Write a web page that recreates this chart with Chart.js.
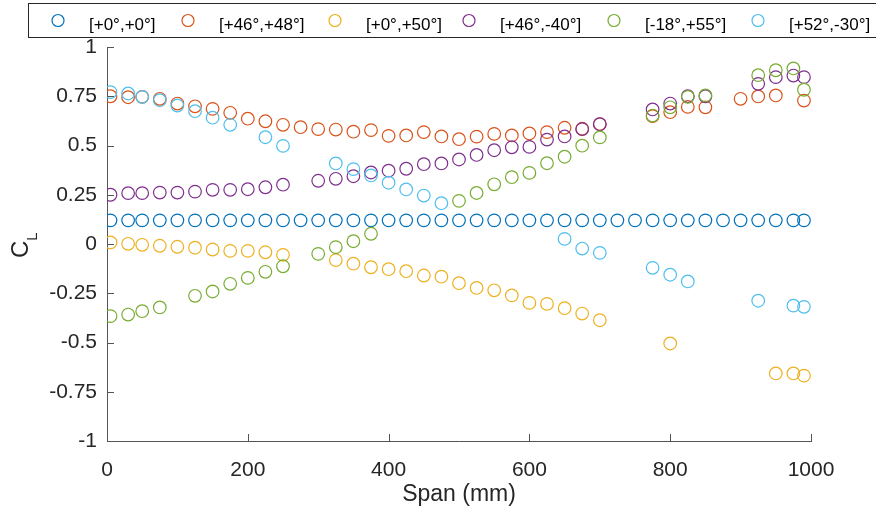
<!DOCTYPE html>
<html>
<head>
<meta charset="utf-8">
<title>CL vs span</title>
<script src="https://cdn.jsdelivr.net/npm/chart.js@4.4.1/dist/chart.umd.min.js"></script>
<style>
  body { margin: 0; background: #fff; }
  canvas { display: block; }
</style>
</head>
<body>
<canvas id="clChart" width="876" height="513"></canvas>
<script>
// span stations (mm) and lift coefficient per configuration (null = no sample)
const span = [5, 30, 50, 75, 100, 125, 150, 175, 200, 225, 250, 275, 300, 325, 350, 375, 400, 425, 450, 475,
  500, 525, 550, 575, 600, 625, 650, 675, 700, 725, 750, 775, 800, 825, 850, 875, 900, 925, 950, 975, 990];

const labels = ["[+0°,+0°]", "[+46°,+48°]", "[+0°,+50°]", "[+46°,-40°]", "[-18°,+55°]", "[+52°,-30°]"];
const colors = ["#0072BD", "#D95319", "#EDB120", "#7E2F8E", "#77AC30", "#4DBEEE"];

const cl0 = span.map(() => 0.12);
const cl1 = [0.75, 0.745, 0.747, 0.737, 0.713, 0.699, 0.686, 0.666, 0.636, 0.623, 0.605, 0.593, 0.583, 0.581, 0.57, 0.578, 0.549, 0.551, 0.568, 0.546,
  0.532, 0.545, 0.559, 0.551, 0.561, 0.568, 0.59, 0.585, 0.609, null, null, 0.649, 0.669, 0.696, 0.694, null, 0.737, 0.749, 0.754, null, 0.728];
const cl2 = [0.008, 0.001, -0.004, -0.009, -0.014, -0.019, -0.028, -0.035, -0.035, -0.042, -0.055, null, null, -0.082, -0.1, -0.118, -0.128, -0.138, -0.16, -0.166,
  -0.199, -0.223, -0.235, -0.261, -0.299, -0.304, -0.326, -0.353, -0.387, null, null, null, -0.505, null, null, null, null, null, -0.657, -0.657, -0.668];
const cl3 = [0.25, 0.258, 0.258, 0.261, 0.261, 0.266, 0.275, 0.275, 0.278, 0.288, 0.301, null, 0.321, 0.331, 0.344, 0.363, 0.372, 0.382, 0.405, 0.409,
  0.429, 0.452, 0.476, 0.491, 0.493, 0.53, 0.546, 0.583, 0.608, null, null, 0.683, 0.713, 0.75, 0.75, null, null, 0.813, 0.847, 0.855, 0.847];
const cl4 = [-0.366, -0.358, -0.341, -0.322, null, -0.263, -0.241, -0.202, -0.172, -0.141, -0.113, null, -0.05, -0.016, 0.014, 0.052, null, null, null, null,
  0.219, 0.259, 0.303, 0.339, 0.361, 0.41, 0.443, 0.499, 0.541, null, null, 0.652, 0.694, 0.747, 0.754, null, null, 0.857, 0.882, 0.891, 0.783];
const cl5 = [0.771, 0.764, 0.747, 0.73, 0.703, 0.674, 0.641, 0.605, null, 0.542, 0.498, null, null, 0.409, 0.38, 0.348, 0.311, 0.277, 0.246, 0.207,
  null, null, null, null, null, null, 0.026, -0.023, -0.045, null, null, -0.121, -0.156, -0.19, null, null, null, -0.288, null, -0.313, -0.319];

const series = [cl0, cl1, cl2, cl3, cl4, cl5];

const xTicks = [0, 200, 400, 600, 800, 1000];
const xTickLabels = ["0", "200", "400", "600", "800", "1000"];
const yTicks = [-1, -0.75, -0.5, -0.25, 0, 0.25, 0.5, 0.75, 1];
const yTickLabels = ["-1", "-0.75", "-0.5", "-0.25", "0", "0.25", "0.5", "0.75", "1"];

const FONT = '"Liberation Sans", Arial, Helvetica, sans-serif';
const AXIS_COLOR = "#555555";
const TEXT_COLOR = "#262626";
const LEGEND_X = [58, 188, 335, 469, 614, 758]; // marker centres in the legend box

// inward tick marks, C_L label and the boxed legend, matlab style
const matlabExtras = {
  id: "matlabExtras",
  afterDraw(chart) {
    const ctx = chart.ctx;
    const { left, bottom } = chart.chartArea;
    const xs = chart.scales.x;
    const ys = chart.scales.y;

    ctx.save();
    ctx.strokeStyle = AXIS_COLOR;
    ctx.lineWidth = 1;
    ctx.beginPath();
    xs.ticks.forEach((t) => {
      const px = Math.round(xs.getPixelForValue(t.value)) + 0.5;
      ctx.moveTo(px, bottom);
      ctx.lineTo(px, bottom - 7);
    });
    ys.ticks.forEach((t) => {
      const py = Math.round(ys.getPixelForValue(t.value)) + 0.5;
      ctx.moveTo(left, py);
      ctx.lineTo(left + 7, py);
    });
    ctx.stroke();

    // y label: C with subscript L
    ctx.fillStyle = TEXT_COLOR;
    ctx.translate(28, 258);
    ctx.rotate(-Math.PI / 2);
    ctx.textBaseline = "alphabetic";
    ctx.font = "24px " + FONT;
    ctx.fillText("C", 0, 0);
    const cw = ctx.measureText("C").width;
    ctx.font = "15px " + FONT;
    ctx.fillText("L", cw, 9);
    ctx.setTransform(1, 0, 0, 1, 0, 0);

    // legend
    ctx.strokeStyle = "#262626";
    ctx.lineWidth = 1;
    ctx.strokeRect(28.5, 3.5, 900, 34);
    ctx.font = "17px " + FONT;
    ctx.textBaseline = "alphabetic";
    chart.data.datasets.forEach((ds, i) => {
      const cx = LEGEND_X[i];
      ctx.beginPath();
      ctx.arc(cx, 20.5, 6, 0, 2 * Math.PI);
      ctx.strokeStyle = ds.borderColor;
      ctx.lineWidth = 1.2;
      ctx.stroke();
      ctx.fillStyle = "#000";
      ctx.fillText(ds.label, cx + 31, 30);
    });
    ctx.restore();
  },
};

const createChart = () => {
  const ctx = document.getElementById("clChart").getContext("2d");

  const datasets = series.map((vals, i) => ({
    label: labels[i],
    data: span.map((s, j) => ({ x: s, y: vals[j] })).filter((p) => p.y !== null),
    borderColor: colors[i],
    backgroundColor: "rgba(0,0,0,0)",
    borderWidth: 1.2,
    pointRadius: 6.3,
    pointHoverRadius: 6.3,
    order: series.length - i,
  }));

  new Chart(ctx, {
    type: "scatter",
    data: { datasets },
    options: {
      animation: false,
      responsive: false,
      devicePixelRatio: 1,
      layout: { padding: { top: 47, right: 65, bottom: 0, left: 0 } },
      plugins: {
        legend: { display: false },
        tooltip: { enabled: false },
      },
      scales: {
        x: {
          type: "linear",
          min: 0,
          max: 1000,
          afterFit: (scale) => { scale.height = 72; },
          afterBuildTicks: (scale) => { scale.ticks = xTicks.map((v) => ({ value: v })); },
          grid: { display: false },
          border: { display: true, color: AXIS_COLOR, width: 1 },
          ticks: {
            color: TEXT_COLOR,
            padding: 9,
            maxRotation: 0,
            font: { size: 21, family: FONT },
            callback: (v) => xTickLabels[xTicks.indexOf(v)],
          },
          title: {
            display: true,
            text: "Span (mm)",
            color: TEXT_COLOR,
            font: { size: 23, family: FONT },
            padding: { top: 0, bottom: 5 },
          },
        },
        y: {
          type: "linear",
          min: -1,
          max: 1,
          afterFit: (scale) => { scale.width = 107; },
          afterBuildTicks: (scale) => { scale.ticks = yTicks.map((v) => ({ value: v })); },
          grid: { display: false },
          border: { display: true, color: AXIS_COLOR, width: 1 },
          ticks: {
            color: TEXT_COLOR,
            padding: 2,
            font: { size: 21, family: FONT },
            callback: (v) => yTickLabels[yTicks.indexOf(v)],
          },
        },
      },
    },
    plugins: [matlabExtras],
  });
};

createChart();
</script>
</body>
</html>
